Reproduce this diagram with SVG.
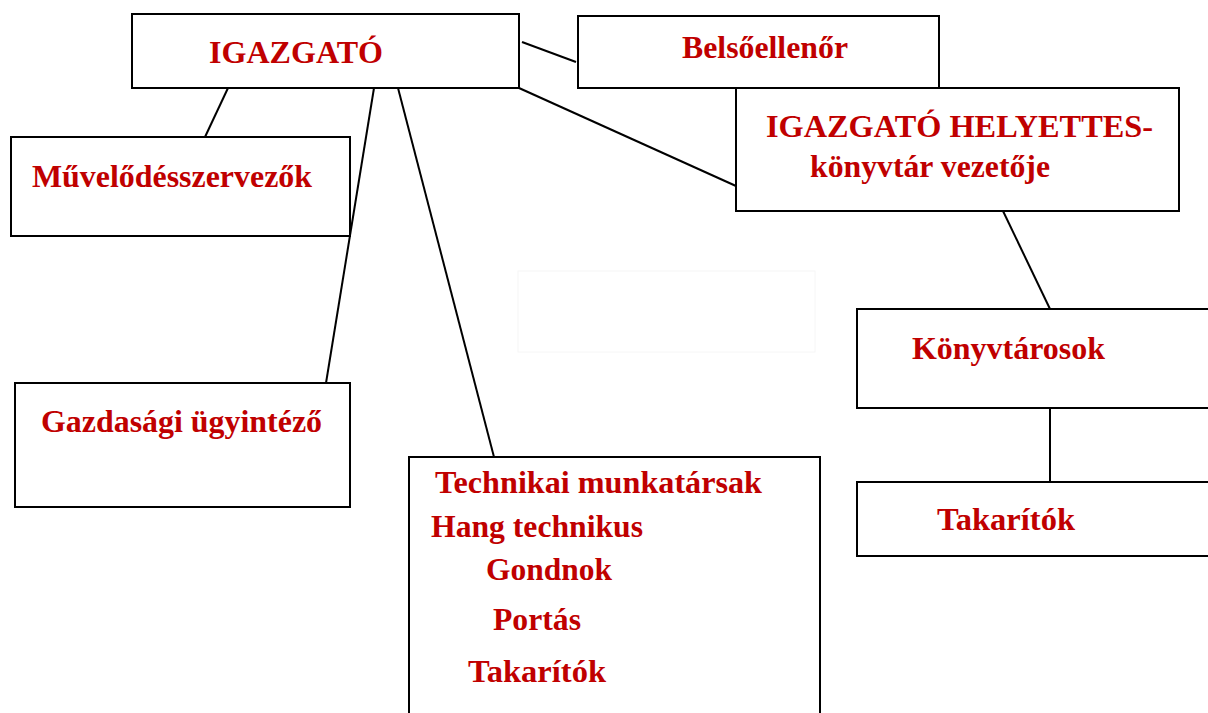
<svg xmlns="http://www.w3.org/2000/svg" width="1208" height="713" viewBox="0 0 1208 713">
<style>
.box{fill:#fff;stroke:#000;stroke-width:2}
.ghost{fill:none;stroke:#f6f6f6;stroke-width:1}
.lbl{font-family:"Liberation Serif","Times New Roman",serif;font-weight:bold;font-size:32px;fill:#c00000}
.conn line{stroke:#000;stroke-width:2}
</style>
<rect width="1208" height="713" fill="#fff"/>
<g id="connectors" class="conn">
<line x1="522" y1="42" x2="576" y2="62"/>
<line x1="519" y1="88" x2="736" y2="186"/>
<line x1="228" y1="88" x2="205" y2="137"/>
<line x1="374" y1="88" x2="326" y2="383"/>
<line x1="398" y1="88" x2="494" y2="457"/>
<line x1="1003" y1="211" x2="1050" y2="309"/>
<line x1="1050" y1="408" x2="1050" y2="482"/>
</g>
<g id="ghost"><rect class="ghost" x="518" y="271" width="297" height="81"/></g>
<g id="igazgato"><rect class="box" x="132" y="14" width="387" height="74"/><text class="lbl" x="209" y="63" textLength="174" lengthAdjust="spacingAndGlyphs">IGAZGATÓ</text></g>
<g id="belsoellenor"><rect class="box" x="578" y="16" width="361" height="72"/><text class="lbl" x="682" y="58" textLength="166" lengthAdjust="spacingAndGlyphs">Belsőellenőr</text></g>
<g id="helyettes"><rect class="box" x="736" y="88" width="443" height="123"/><text class="lbl" x="766" y="137" textLength="387" lengthAdjust="spacingAndGlyphs">IGAZGATÓ HELYETTES-</text><text class="lbl" x="810" y="177" textLength="240" lengthAdjust="spacingAndGlyphs">könyvtár vezetője</text></g>
<g id="muvelodes"><rect class="box" x="11" y="137" width="339" height="99"/><text class="lbl" x="32" y="187" textLength="280" lengthAdjust="spacingAndGlyphs">Művelődésszervezők</text></g>
<g id="gazdasagi"><rect class="box" x="15" y="383" width="335" height="124"/><text class="lbl" x="41" y="432" textLength="281" lengthAdjust="spacingAndGlyphs">Gazdasági ügyintéző</text></g>
<g id="technikai"><rect class="box" x="409" y="457" width="411" height="270"/>
<text class="lbl" x="435" y="493" textLength="327" lengthAdjust="spacingAndGlyphs">Technikai munkatársak</text>
<text class="lbl" x="431" y="537" textLength="212" lengthAdjust="spacingAndGlyphs">Hang technikus</text>
<text class="lbl" x="486" y="580" textLength="126" lengthAdjust="spacingAndGlyphs">Gondnok</text>
<text class="lbl" x="493" y="630" textLength="88" lengthAdjust="spacingAndGlyphs">Portás</text>
<text class="lbl" x="468" y="682" textLength="138" lengthAdjust="spacingAndGlyphs">Takarítók</text></g>
<g id="konyvtarosok"><rect class="box" x="857" y="309" width="360" height="99"/><text class="lbl" x="912" y="359" textLength="193" lengthAdjust="spacingAndGlyphs">Könyvtárosok</text></g>
<g id="takaritok2"><rect class="box" x="857" y="482" width="360" height="74"/><text class="lbl" x="937" y="530" textLength="138" lengthAdjust="spacingAndGlyphs">Takarítók</text></g>
</svg>
